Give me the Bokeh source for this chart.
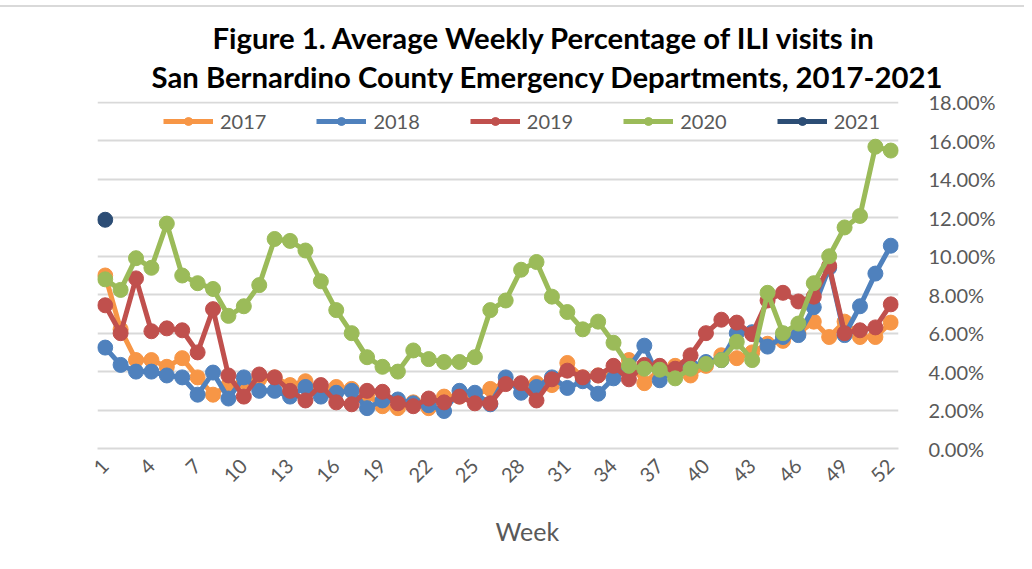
import math
from bokeh.plotting import figure
from bokeh.models import Range1d, FixedTicker, PrintfTickFormatter, Legend, LegendItem, Title
from bokeh.embed import file_html
from bokeh.resources import INLINE

weeks = list(range(1, 53))
tick_weeks = list(range(1, 53, 3))

ili_2017 = [9.0, 6.2, 4.6, 4.6, 4.25, 4.7, 3.7, 2.8, 3.3, 3.5, 3.6, 3.7, 3.3, 3.5, 3.0, 3.2,
            3.1, 2.8, 2.2, 2.1, 2.4, 2.1, 2.7, 2.7, 2.8, 3.1, 3.4, 3.3, 3.4, 3.3, 4.45, 3.7,
            3.8, 3.9, 4.6, 3.4, 4.1, 4.3, 3.8, 4.3, 4.85, 4.7, 5.0, 5.45, 5.6, 6.0, 6.6, 5.8,
            6.6, 5.8, 5.8, 6.55]
ili_2018 = [5.25, 4.35, 4.0, 4.0, 3.8, 3.7, 2.8, 3.95, 2.6, 3.7, 3.0, 3.0, 2.7, 3.2, 2.7, 2.9,
            3.0, 2.1, 2.5, 2.55, 2.35, 2.25, 1.95, 3.0, 2.9, 2.3, 3.7, 2.9, 3.2, 3.7, 3.15, 3.5,
            2.85, 3.65, 4.2, 5.35, 3.55, 4.1, 4.3, 4.5, 4.6, 6.0, 6.05, 5.3, 5.8, 5.9, 7.35, 9.4,
            5.9, 7.4, 9.1, 10.55]
ili_2019 = [7.45, 6.0, 8.85, 6.1, 6.25, 6.15, 5.0, 7.25, 3.8, 2.7, 3.85, 3.7, 3.0, 2.5, 3.3, 2.4,
            2.3, 3.0, 2.95, 2.35, 2.2, 2.6, 2.4, 2.7, 2.35, 2.35, 3.35, 3.4, 2.5, 3.6, 4.05, 3.7,
            3.8, 4.3, 3.6, 4.35, 4.3, 4.15, 4.85, 6.0, 6.7, 6.55, 5.95, 7.7, 8.1, 7.65, 7.9, 9.5,
            6.0, 6.15, 6.3, 7.5]
ili_2020 = [8.8, 8.25, 9.9, 9.4, 11.7, 9.0, 8.6, 8.3, 6.9, 7.4, 8.5, 10.9, 10.8, 10.3, 8.7, 7.2,
            6.0, 4.75, 4.25, 4.0, 5.1, 4.65, 4.5, 4.5, 4.75, 7.2, 7.7, 9.3, 9.7, 7.9, 7.1, 6.2,
            6.6, 5.5, 4.3, 4.15, 4.1, 3.65, 4.15, 4.4, 4.6, 5.55, 4.6, 8.1, 6.0, 6.5, 8.6, 10.0,
            11.5, 12.1, 15.7, 15.5]
weeks_2021 = [1]
ili_2021 = [11.9]

series = [
    ("2017", weeks, ili_2017, "#F79646"),
    ("2018", weeks, ili_2018, "#4F81BD"),
    ("2019", weeks, ili_2019, "#C0504D"),
    ("2020", weeks, ili_2020, "#9BBB59"),
    ("2021", weeks_2021, ili_2021, "#2C4D75"),
]

FONT = "Lato"
GRAY = "#595959"

p = figure(width=1024, height=562, output_backend="svg", toolbar_location=None,
           x_range=Range1d(0.5, 52.5), y_range=Range1d(0, 18.052),
           y_axis_location="right",
           margin=(5, 0, 0, 0),
           styles={"border-top": "2px solid #D9D9D9"},
           min_border_left=97, min_border_right=126, min_border_top=94, min_border_bottom=121)
p.outline_line_color = None
p.background_fill_color = "white"
p.border_fill_color = "white"

p.xgrid.grid_line_color = None
p.ygrid.grid_line_color = "#D9D9D9"
p.ygrid.grid_line_width = 2
p.ygrid.ticker = FixedTicker(ticks=list(range(0, 19, 2)))

p.yaxis.ticker = FixedTicker(ticks=list(range(0, 19, 2)))
p.yaxis.formatter = PrintfTickFormatter(format="%.2f%%")
p.yaxis.axis_line_color = None
p.yaxis.major_tick_line_color = None
p.yaxis.minor_tick_line_color = None
p.yaxis.major_label_text_font = FONT
p.yaxis.major_label_text_font_size = "20px"
p.yaxis.major_label_text_color = GRAY
p.yaxis.major_label_standoff = 24

p.xaxis.ticker = FixedTicker(ticks=tick_weeks)
p.xaxis.axis_line_color = "#D9D9D9"
p.xaxis.axis_line_width = 2
p.xaxis.major_tick_line_color = None
p.xaxis.minor_tick_line_color = None
p.xaxis.major_label_orientation = math.pi / 4
p.xaxis.major_label_text_font = FONT
p.xaxis.major_label_text_font_size = "20px"
p.xaxis.major_label_text_color = GRAY
p.xaxis.major_label_standoff = 8

items = []
for name, xs, ys, color in series:
    r1 = p.line(xs, ys, line_color=color, line_width=5)
    r2 = p.scatter(xs, ys, marker="circle", size=15, fill_color=color, line_color=color)
    items.append(LegendItem(label=name, renderers=[r1, r2]))

legend = Legend(items=items, orientation="horizontal", location=(66, 315),
                glyph_width=50, glyph_height=20, label_standoff=7, spacing=50,
                padding=0, margin=0, border_line_color=None, background_fill_alpha=0,
                label_text_font=FONT, label_text_font_size="20px", label_text_color=GRAY)
p.add_layout(legend)

t2 = Title(text="San Bernardino County Emergency Departments, 2017-2021", align="left",
           offset=54, standoff=16, text_font=FONT, text_font_style="bold",
           text_font_size="29.3px", text_color="black")
t1 = Title(text="Figure 1. Average Weekly Percentage of ILI visits in", align="left",
           offset=115, standoff=-13, text_font=FONT, text_font_style="bold",
           text_font_size="29.3px", text_color="black")
p.add_layout(t2, "above")
p.add_layout(t1, "above")

tw = Title(text="Week", align="left", offset=398, standoff=45, text_font=FONT,
           text_font_style="normal", text_font_size="25px", text_color=GRAY)
p.add_layout(tw, "below")

open("out.html", "w").write(file_html(p, INLINE))
